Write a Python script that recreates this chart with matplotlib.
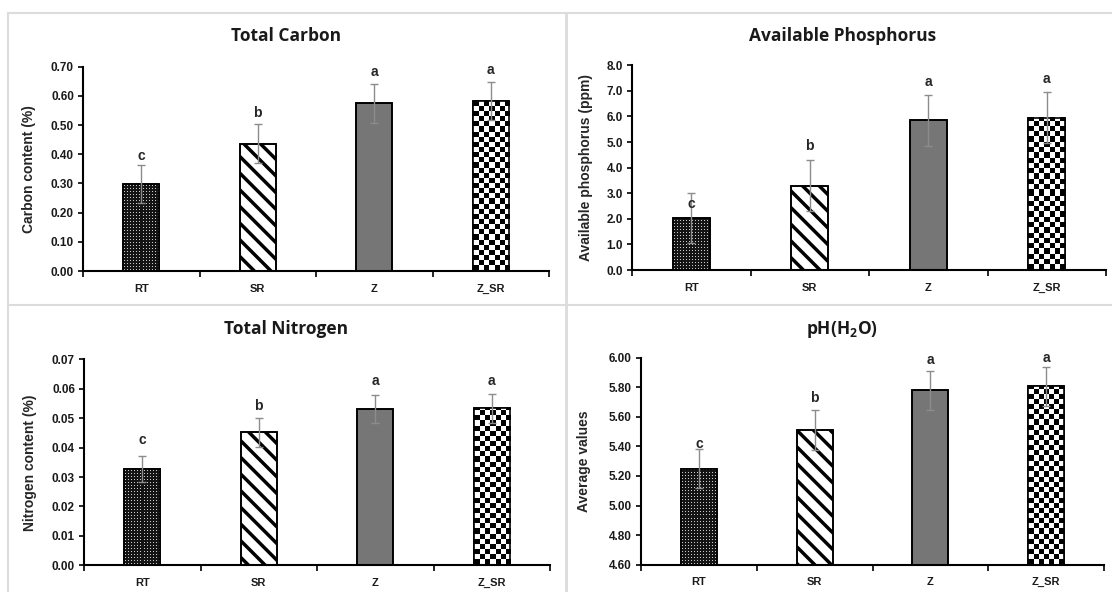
"""Soil properties under four treatments: 2x2 panel of bar charts with SE bars."""

import matplotlib

matplotlib.use("Agg")

import matplotlib.pyplot as plt
import numpy as np
from matplotlib.lines import Line2D
from matplotlib.ticker import FixedLocator, FormatStrFormatter

W_PX, H_PX = 1112, 592
DPI = 100
TICK_FONT = ["Liberation Sans", "DejaVu Sans"]
TITLE_FONT = ["Open Sans", "DejaVu Sans"]
BORDER = "#dcdcdc"

treatments = ["RT", "SR", "Z", "Z_SR"]
letters = ["c", "b", "a", "a"]

carbon_mean = [0.297, 0.436, 0.574, 0.582]
carbon_err = [0.065, 0.067, 0.066, 0.065]
carbon_letter_y = [0.394, 0.540, 0.683, 0.689]

phos_mean = [2.02, 3.30, 5.85, 5.95]
phos_err = [0.97, 0.99, 0.99, 0.99]
phos_letter_y = [2.58, 4.84, 7.36, 7.45]

nitro_mean = [0.0328, 0.0452, 0.0530, 0.0533]
nitro_err = [0.0045, 0.0050, 0.0048, 0.0050]
nitro_letter_y = [0.0425, 0.0541, 0.0626, 0.0626]

ph_mean = [5.250, 5.511, 5.779, 5.806]
ph_err = [0.130, 0.134, 0.131, 0.130]
ph_letter_y = [5.418, 5.729, 5.984, 6.000]

plt.rcParams["hatch.linewidth"] = 2.5
plt.rcParams["mathtext.fontset"] = "custom"
plt.rcParams["mathtext.rm"] = "Open Sans:bold"
plt.rcParams["mathtext.bf"] = "Open Sans:bold"


def px_axes(fig, left, top, right, bottom):
    """Add axes from pixel box (origin top-left)."""
    return fig.add_axes([
        left / W_PX,
        1 - bottom / H_PX,
        (right - left) / W_PX,
        (bottom - top) / H_PX,
    ])


def pattern_fill(ax, bar, kind):
    x0, y0 = bar.get_x(), bar.get_y()
    w, h = bar.get_width(), bar.get_height()
    (px0, py0), (px1, py1) = ax.transData.transform([(x0, y0), (x0 + w, y0 + h)])
    npx, npy = max(int(round(px1 - px0)), 1), max(int(round(py1 - py0)), 1)
    yy, xx = np.mgrid[0:npy, 0:npx]
    if kind == "dots":
        img = np.where((xx % 3 == 1) & (yy % 3 == 1), 0.8, 0.08)
    else:
        cell = npx / 7.0
        img = (((xx // cell).astype(int) + (yy // cell).astype(int)) % 2).astype(float)
    ax.imshow(
        img, cmap="gray", vmin=0, vmax=1,
        extent=(x0, x0 + w, y0, y0 + h), origin="lower",
        interpolation="nearest", aspect="auto",
        clip_path=bar, zorder=2,
    )


def draw_panel(ax, means, errs, letter_y, ylim, step, fmt, ylabel, label_x):
    x = np.arange(len(treatments))
    base = ylim[0]
    heights = [m - base for m in means]
    ax.set_xlim(-0.5, len(treatments) - 0.5)
    ax.set_ylim(*ylim)

    width = 0.31
    bars = ax.bar(x, heights, width, bottom=base, color="white",
                  edgecolor="black", linewidth=1.2, zorder=1)
    # RT: dense dots, SR: diagonal stripes, Z: solid grey, Z_SR: checkerboard
    pattern_fill(ax, bars[0], "dots")
    bars[1].set_hatch("\\\\")
    bars[2].set_facecolor("#767676")
    pattern_fill(ax, bars[3], "checker")
    # outlines on top of the image fills
    ax.bar(x, heights, width, bottom=base, fill=False,
           edgecolor="black", linewidth=1.2, zorder=3)

    ax.errorbar(x, means, yerr=errs, fmt="none", ecolor="#8c8c8c",
                elinewidth=1.0, capsize=3, capthick=1.0, zorder=4)

    for xi, yi, lab in zip(x, letter_y, letters):
        ax.text(xi, yi, lab, ha="center", va="center", fontsize=10,
                fontweight="bold", color="#262626", family=TICK_FONT, zorder=5)

    ax.set_xlim(-0.5, len(treatments) - 0.5)
    ax.set_ylim(*ylim)
    ax.set_xticks(x)
    ax.set_xticklabels(treatments)
    ax.xaxis.set_minor_locator(FixedLocator(np.arange(-0.5, len(treatments), 1.0)))
    ax.set_yticks(np.arange(ylim[0], ylim[1] + step / 2, step))
    ax.yaxis.set_major_formatter(FormatStrFormatter(fmt))

    ax.tick_params(axis="x", which="major", length=0, pad=9)
    ax.tick_params(axis="x", which="minor", length=4, width=1.2, direction="out")
    ax.tick_params(axis="y", length=3.5, width=1.2, pad=3)
    for lab in ax.get_xticklabels():
        lab.set_fontsize(8)
    for lab in ax.get_yticklabels():
        lab.set_fontsize(8.5)
    for lab in ax.get_xticklabels() + ax.get_yticklabels():
        lab.set_fontfamily(TICK_FONT)
        lab.set_fontweight("bold")
        lab.set_color("#1a1a1a")

    ax.set_ylabel(ylabel, fontsize=10, fontweight="bold", family=TICK_FONT,
                  color="#262626")
    ax.yaxis.set_label_coords(label_x, 0.5)

    ax.spines["top"].set_visible(False)
    ax.spines["right"].set_visible(False)
    ax.spines["left"].set_linewidth(1.5)
    ax.spines["bottom"].set_linewidth(1.5)
    ax.patch.set_alpha(0)


fig = plt.figure(figsize=(W_PX / DPI, H_PX / DPI), dpi=DPI, facecolor="white")

# light panel frames
for (x0, y0, x1, y1, lw) in [
    (8, 12.5, W_PX, 12.5, 1.5),
    (8, 305, W_PX, 305, 1.5),
    (8, 12.5, 8, H_PX, 1.5),
    (566, 12.5, 566, H_PX, 2.0),
]:
    fig.add_artist(Line2D([x0 / W_PX, x1 / W_PX], [1 - y0 / H_PX, 1 - y1 / H_PX],
                          transform=fig.transFigure, color=BORDER, linewidth=lw))

ax_c = px_axes(fig, 83, 66.7, 549, 271)
draw_panel(ax_c, carbon_mean, carbon_err, carbon_letter_y, (0, 0.70), 0.10,
           "%.2f", "Carbon content (%)", -0.101)

ax_p = px_axes(fig, 632, 65.3, 1106, 270)
draw_panel(ax_p, phos_mean, phos_err, phos_letter_y, (0, 8.0), 1.0,
           "%.1f", "Available phosphorus (ppm)", -0.082)

ax_n = px_axes(fig, 84, 359.3, 550, 565.3)
draw_panel(ax_n, nitro_mean, nitro_err, nitro_letter_y, (0, 0.07), 0.01,
           "%.2f", "Nitrogen content (%)", -0.10)

ax_ph = px_axes(fig, 641, 357.7, 1104, 564.7)
draw_panel(ax_ph, ph_mean, ph_err, ph_letter_y, (4.6, 6.0), 0.2,
           "%.2f", "Average values", -0.108)

titles = [
    ("Total Carbon", 286, 36),
    ("Available Phosphorus", 843, 36),
    ("Total Nitrogen", 286, 329),
    ("pH(H$_{2}$O)", 842, 329),
]
for text, tx, ty in titles:
    fig.text(tx / W_PX, 1 - ty / H_PX, text, ha="center", va="center",
             fontsize=12.5, fontweight="bold", family=TITLE_FONT, color="#1a1a1a")

fig.savefig("out.png", dpi=DPI, facecolor="white")
plt.close(fig)
